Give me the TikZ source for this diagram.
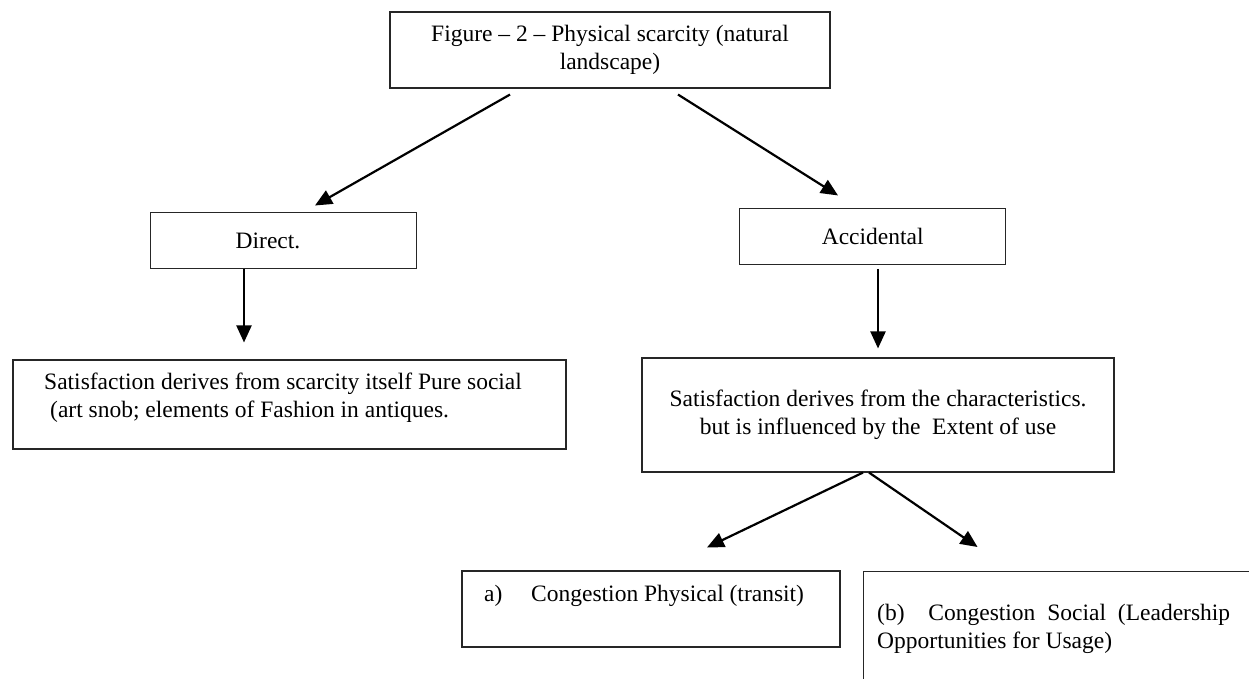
\documentclass[tikz,border=0pt]{standalone}
\usepackage{fontspec}
\setmainfont{Liberation Serif}
\usetikzlibrary{arrows.meta}
\begin{document}
\begin{tikzpicture}[x=1pt,y=-1pt,
  every node/.style={font=\fontsize{23.5}{28}\selectfont, inner sep=0pt},
  box/.style={draw=black!85, line width=1.1pt, rectangle, inner sep=0pt},
  txt/.style={anchor=base west},
  conn/.style={line width=2.2pt, -{Triangle[length=17pt,width=15pt]}}]
\useasboundingbox (0,0) rectangle (1249,679);
\clip (0,0) rectangle (1249,679);
% boxes
\node[box, minimum width=440pt, minimum height=76pt, align=center] (top) at (610,50) {Figure – 2 – Physical scarcity (natural\\landscape)};
\node[box, minimum width=265.3pt, minimum height=55.3pt] (direct) at (283.4,240.4) {Direct.\hspace*{30.8pt}};
\node[box, minimum width=266pt, minimum height=56pt] (acc) at (872.7,236.3) {Accidental};
\node[box, minimum width=553pt, minimum height=89pt] (scar) at (289.5,404.5) {};
\node[txt] (scar1) at (44,389) {Satisfaction derives from scarcity itself Pure social};
\node[txt] (scar2) at (50,417) {(art snob; elements of Fashion in antiques.};
\node[box, minimum width=472pt, minimum height=114pt, align=center] (char) at (878,415) {Satisfaction derives from the characteristics.\\but is influenced by the\ \ Extent of use};
\node[box, minimum width=378pt, minimum height=76pt] (phys) at (651,609) {};
\node[txt] (physa) at (484,601) {a)};
\node[txt] (physt) at (531,601) {Congestion Physical (transit)};
\node[box, minimum width=420pt, minimum height=140pt, anchor=north west] (soc) at (862.7,571) {};
\node[txt] (soc1) at (877,620) {\makebox[353pt][s]{(b)\ \ Congestion Social (Leadership}};
\node[txt] (soc2) at (877,648) {Opportunities for Usage)};
% connectors
\draw[conn] ([xshift=-100pt,yshift=-6pt]top.south) -- ([xshift=31.6pt,yshift=6.7pt]direct.north);
\draw[conn] ([xshift=68pt,yshift=-6pt]top.south) -- ([xshift=-34.7pt,yshift=12.3pt]acc.north);
\draw[conn] ([xshift=-39.4pt]direct.south) -- ([xshift=-45.5pt,yshift=17pt]scar.north);
\draw[conn] ([xshift=5.3pt,yshift=-4pt]acc.south) -- ([yshift=9pt]char.north);
\draw[conn] ([xshift=-15pt]char.south) -- ([xshift=56pt,yshift=23pt]phys.north);
\draw[conn] ([xshift=-9pt]char.south) -- ([xshift=-95.7pt,yshift=24pt]soc.north);
\end{tikzpicture}
\end{document}
